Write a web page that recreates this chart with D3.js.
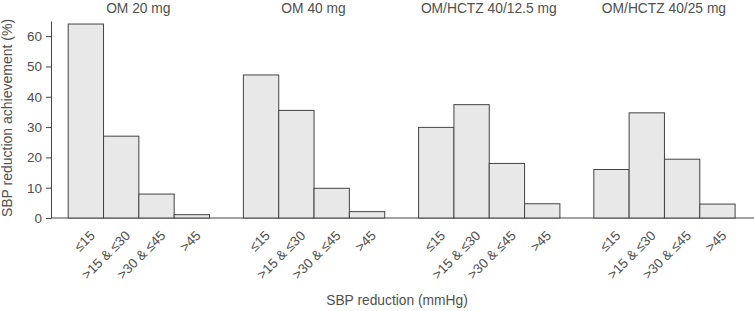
<!DOCTYPE html>
<html><head><meta charset="utf-8">
<script src="https://cdn.jsdelivr.net/npm/d3@7"></script>
<style>body{margin:0;background:#fff}text{font-family:"Liberation Sans",Arial,sans-serif}</style>
</head><body><svg id="chart" width="754" height="311"></svg>
<script>
const groups = ["OM 20 mg","OM 40 mg","OM/HCTZ 40/12.5 mg","OM/HCTZ 40/25 mg"];
const categories = ["≤15",">15 & ≤30",">30 & ≤45",">45"];
const om20 = [64.0, 27.0, 7.9, 1.1];
const om40 = [47.2, 35.5, 9.8, 2.1];
const hctz125 = [29.9, 37.4, 18.0, 4.7];
const hctz25 = [16.0, 34.7, 19.4, 4.6];
const series = [om20, om40, hctz125, hctz25];
const yTicks = [0,10,20,30,40,50,60];

const svg = d3.select("#chart");
const col = "#444";
const tcol = "#505050";
const y = d3.scaleLinear().domain([0,65]).range([218,21]);
const gx = d3.scaleBand().domain(groups).range([67.7, 67.7+4*175.2]).paddingInner(0).paddingOuter(0);
const bx = d3.scaleBand().domain(categories).range([0,141.3]).padding(0);

// y axis
const ya = svg.append("g").attr("transform","translate(51,0)")
  .call(d3.axisLeft(y).tickValues(yTicks).tickSize(5).tickPadding(4).tickSizeOuter(0));
ya.select(".domain").attr("stroke",col);
ya.selectAll(".tick line").attr("stroke",col);
ya.selectAll("text").attr("fill",tcol).style("font-size","13.5px").style("font-family","'Liberation Sans',Arial,sans-serif");

// x baseline
svg.append("line").attr("x1",51).attr("x2",754).attr("y1",y(0)).attr("y2",y(0)).attr("stroke",col).attr("stroke-width",1);

groups.forEach((g,i)=>{
  const gg = svg.append("g").attr("transform",`translate(${gx(g)},0)`);
  gg.selectAll("rect").data(series[i]).join("rect")
    .attr("x",(d,j)=>bx(categories[j])+0.5)
    .attr("y",d=>y(d))
    .attr("width",bx.bandwidth())
    .attr("height",d=>y(0)-y(d))
    .attr("fill","#e8e8e8").attr("stroke",col).attr("stroke-width",1);
  gg.append("text").attr("x",bx.range()[1]/2).attr("y",13)
    .attr("text-anchor","middle").attr("fill",tcol).style("font-size","13.8px").text(g);
  gg.selectAll("text.xl").data(categories).join("text").attr("class","xl")
    .attr("transform",d=>`translate(${bx(d)+bx.bandwidth()/2+7},${233}) rotate(-45)`)
    .attr("text-anchor","end").attr("dy","0.35em")
    .attr("fill",tcol).style("font-size","13.5px").text(d=>d);
});

svg.append("text").attr("transform","translate(12,118) rotate(-90)")
  .attr("text-anchor","middle").attr("fill",tcol).style("font-size","14px")
  .text("SBP reduction achievement (%)");
svg.append("text").attr("x",397).attr("y",305).attr("text-anchor","middle")
  .attr("fill",tcol).style("font-size","13.8px").text("SBP reduction (mmHg)");
</script></body></html>
